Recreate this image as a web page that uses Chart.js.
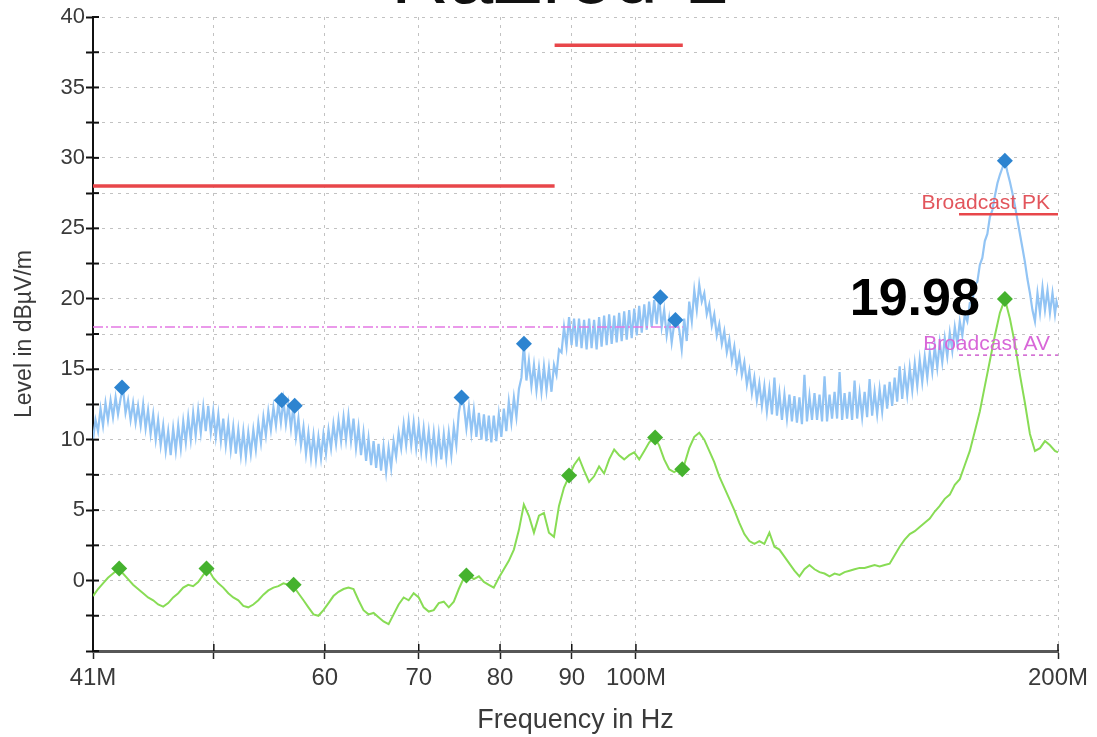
<!DOCTYPE html>
<html>
<head>
<meta charset="utf-8">
<script src="https://cdn.jsdelivr.net/npm/chart.js@4/dist/chart.umd.min.js"></script>
<style>
  html, body { margin: 0; padding: 0; background: #ffffff; }
  #wrap { width: 1097px; height: 737px; }
</style>
</head>
<body>
<div id="wrap"><canvas id="scan" width="1097" height="737"></canvas></div>
<script>
// Scan title
const chartTitle = 'RaZrod-1';

// Average detector sweep frequencies (MHz)
const freqMHz = [
  41.00, 41.34, 41.68, 42.02, 42.37, 42.72, 43.07, 43.43, 43.79, 44.15,
  44.52, 44.88, 45.26, 45.63, 46.01, 46.39, 46.77, 47.16, 47.55, 47.94,
  48.33, 48.73, 49.14, 49.54, 49.95, 50.37, 50.78, 51.20, 51.62, 52.05,
  52.48, 52.91, 53.35, 53.79, 54.24, 54.68, 55.14, 55.59, 56.05, 56.51,
  56.98, 57.45, 57.93, 58.40, 58.89, 59.37, 59.86, 60.36, 60.85, 61.36,
  61.87, 62.37, 62.89, 63.41, 63.93, 64.46, 65.00, 65.53, 66.07, 66.62,
  67.17, 67.73, 68.29, 68.85, 69.42, 70.00, 70.57, 71.16, 71.75, 72.34,
  72.94, 73.54, 74.15, 74.76, 75.39, 76.01, 76.63, 77.27, 77.91, 78.54,
  79.18, 79.84, 80.50, 81.16, 81.84, 82.52, 83.19, 83.88, 84.58, 85.28,
  85.98, 86.69, 87.41, 88.13, 88.86, 89.60, 90.34, 91.08, 91.84, 92.60,
  93.36, 94.13, 94.91, 95.70, 96.49, 97.28, 98.09, 98.90, 99.72, 100.54,
  101.38, 102.19, 103.04, 103.89, 104.75, 105.61, 106.48, 107.37, 108.25, 109.15,
  110.06, 110.96, 111.88, 112.80, 113.73, 114.67, 115.62, 116.58, 117.54, 118.51,
  119.49, 120.48, 121.47, 122.47, 123.48, 124.51, 125.54, 126.57, 127.62, 128.67,
  129.73, 130.80, 131.88, 132.98, 134.08, 135.19, 136.31, 137.43, 138.57, 139.72,
  140.87, 142.03, 143.20, 144.39, 145.58, 146.78, 147.99, 149.22, 150.45, 151.69,
  152.94, 154.21, 155.48, 156.78, 158.08, 159.37, 160.69, 162.02, 163.36, 164.70,
  166.06, 167.44, 168.82, 170.21, 171.62, 173.04, 174.47, 175.90, 177.35, 178.83,
  180.31, 181.80, 183.30, 184.81, 186.34, 187.88, 189.43, 190.99, 192.57, 194.17,
  195.77, 197.38, 199.01, 200.00
];

// Average detector trace (dBµV/m)
const avgLevel = [
  -1.1, -0.6, -0.2, 0.2, 0.5, 0.8, 0.5, 0.1, -0.3, -0.6,
  -0.9, -1.2, -1.4, -1.7, -1.85, -1.6, -1.2, -0.9, -0.5, -0.3,
  -0.4, -0.1, 0.4, 0.8, 0.2, -0.2, -0.5, -0.9, -1.2, -1.4,
  -1.8, -1.9, -1.7, -1.4, -1.0, -0.7, -0.5, -0.4, -0.2, -0.3,
  -0.4, -0.9, -1.4, -1.9, -2.4, -2.5, -2.1, -1.6, -1.1, -0.8,
  -0.6, -0.5, -0.6, -1.4, -2.1, -2.4, -2.3, -2.6, -2.9, -3.1,
  -2.4, -1.7, -1.2, -1.4, -0.9, -1.2, -1.9, -2.2, -2.1, -1.6,
  -1.5, -1.9, -1.5, -0.6, 0.2, 0.35, 0.1, 0.3, -0.1, -0.3,
  -0.5, 0.2, 0.8, 1.4, 2.2, 3.6, 5.4, 4.6, 3.4, 4.6,
  4.8, 3.4, 3.1, 5.3, 6.6, 7.4, 8.2, 8.7, 7.8, 7.0,
  7.4, 8.1, 7.6, 8.6, 9.3, 8.9, 8.6, 8.9, 9.1, 8.6,
  9.2, 9.8, 10.2, 9.6, 8.6, 7.9, 7.7, 7.9, 8.2, 9.4,
  10.2, 10.5, 10.0, 9.2, 8.4, 7.4, 6.6, 5.8, 5.0, 4.1,
  3.3, 2.8, 2.6, 2.8, 2.6, 3.4, 2.4, 2.2, 1.7, 1.2,
  0.7, 0.3, 0.8, 1.1, 0.8, 0.6, 0.5, 0.3, 0.5, 0.4,
  0.6, 0.7, 0.8, 0.9, 0.9, 1.0, 1.1, 1.0, 1.1, 1.2,
  1.8, 2.4, 2.9, 3.3, 3.5, 3.8, 4.1, 4.4, 4.9, 5.3,
  5.8, 6.1, 6.8, 7.2, 8.2, 9.2, 10.6, 12.0, 13.8, 15.6,
  17.4, 19.0, 19.98, 18.6, 16.8, 14.6, 12.6, 10.4, 9.2, 9.4,
  9.9, 9.6, 9.2, 9.1
];

// Peak detector sweep frequencies (MHz), finer step
const peakFreqMHz = [
  41.00, 41.17, 41.34, 41.51, 41.68, 41.85, 42.02, 42.20, 42.37, 42.55, 42.72, 42.90, 43.07, 43.25, 43.43, 43.61, 43.79, 43.97, 44.15, 44.34,
  44.52, 44.70, 44.88, 45.07, 45.26, 45.45, 45.63, 45.82, 46.01, 46.20, 46.39, 46.58, 46.77, 46.97, 47.16, 47.36, 47.55, 47.75, 47.94, 48.14,
  48.33, 48.53, 48.73, 48.94, 49.14, 49.34, 49.54, 49.75, 49.95, 50.16, 50.37, 50.58, 50.78, 50.99, 51.20, 51.41, 51.62, 51.84, 52.05, 52.27,
  52.48, 52.70, 52.91, 53.13, 53.35, 53.57, 53.79, 54.02, 54.24, 54.46, 54.68, 54.91, 55.14, 55.37, 55.59, 55.82, 56.05, 56.28, 56.51, 56.75,
  56.98, 57.22, 57.45, 57.69, 57.93, 58.17, 58.40, 58.65, 58.89, 59.13, 59.37, 59.62, 59.86, 60.11, 60.36, 60.61, 60.85, 61.11, 61.36, 61.62,
  61.87, 62.12, 62.37, 62.63, 62.89, 63.15, 63.41, 63.67, 63.93, 64.20, 64.46, 64.73, 65.00, 65.27, 65.53, 65.80, 66.07, 66.35, 66.62, 66.90,
  67.17, 67.45, 67.73, 68.01, 68.29, 68.57, 68.85, 69.14, 69.42, 69.71, 70.00, 70.29, 70.57, 70.87, 71.16, 71.46, 71.75, 72.05, 72.34, 72.64,
  72.94, 73.24, 73.54, 73.85, 74.15, 74.46, 74.76, 75.08, 75.39, 75.70, 76.01, 76.32, 76.63, 76.95, 77.27, 77.59, 77.91, 78.23, 78.54, 78.86,
  79.18, 79.51, 79.84, 80.17, 80.50, 80.83, 81.16, 81.50, 81.84, 82.18, 82.52, 82.86, 83.19, 83.54, 83.88, 84.23, 84.58, 84.93, 85.28, 85.63,
  85.98, 86.34, 86.69, 87.05, 87.41, 87.77, 88.13, 88.50, 88.86, 89.23, 89.60, 89.97, 90.34, 90.71, 91.08, 91.46, 91.84, 92.22, 92.60, 92.98,
  93.36, 93.75, 94.13, 94.52, 94.91, 95.31, 95.70, 96.10, 96.49, 96.89, 97.28, 97.69, 98.09, 98.50, 98.90, 99.31, 99.72, 100.13, 100.54, 100.96,
  101.38, 101.79, 102.19, 102.62, 103.04, 103.47, 103.89, 104.32, 104.75, 105.18, 105.61, 106.05, 106.48, 106.93, 107.37, 107.81, 108.25, 108.70, 109.15, 109.61,
  110.06, 110.51, 110.96, 111.42, 111.88, 112.34, 112.80, 113.27, 113.73, 114.20, 114.67, 115.15, 115.62, 116.10, 116.58, 117.06, 117.54, 118.03, 118.51, 119.00,
  119.49, 119.99, 120.48, 120.98, 121.47, 121.97, 122.47, 122.98, 123.48, 124.00, 124.51, 125.03, 125.54, 126.06, 126.57, 127.10, 127.62, 128.15, 128.67, 129.20,
  129.73, 130.27, 130.80, 131.34, 131.88, 132.43, 132.98, 133.53, 134.08, 134.64, 135.19, 135.75, 136.31, 136.87, 137.43, 138.00, 138.57, 139.15, 139.72, 140.30,
  140.87, 141.45, 142.03, 142.62, 143.20, 143.80, 144.39, 144.99, 145.58, 146.18, 146.78, 147.39, 147.99, 148.61, 149.22, 149.84, 150.45, 151.07, 151.69, 152.32,
  152.94, 153.58, 154.21, 154.85, 155.48, 156.13, 156.78, 157.43, 158.08, 158.73, 159.37, 160.03, 160.69, 161.36, 162.02, 162.69, 163.36, 164.03, 164.70, 165.38,
  166.06, 166.75, 167.44, 168.13, 168.82, 169.52, 170.21, 170.92, 171.62, 172.33, 173.04, 173.76, 174.47, 175.19, 175.90, 176.63, 177.35, 178.09, 178.83, 179.57,
  180.31, 181.06, 181.80, 182.55, 183.30, 184.06, 184.81, 185.58, 186.34, 187.11, 187.88, 188.66, 189.43, 190.21, 190.99, 191.78, 192.57, 193.37, 194.17, 194.97,
  195.77, 196.58, 197.38, 198.20, 199.01, 199.51, 200.00
];

// Peak detector trace (dBµV/m)
const peakLevel = [
  10.0, 11.4, 10.6, 12.2, 11.0, 12.6, 11.4, 12.8, 11.6, 13.0, 11.8, 12.9, 13.7, 11.9, 12.8, 11.4, 12.6, 11.2, 12.4, 11.0,
  12.5, 10.8, 12.1, 10.4, 11.8, 10.0, 11.4, 9.6, 11.0, 9.2, 10.6, 8.9, 10.8, 9.2, 11.0, 9.4, 11.3, 9.8, 11.6, 10.0,
  11.9, 10.3, 12.1, 10.5, 12.3, 10.6, 12.4, 10.5, 12.0, 10.2, 11.8, 9.9, 11.5, 9.6, 11.2, 9.3, 10.9, 9.0, 10.7, 8.9,
  10.6, 8.8, 10.5, 9.0, 10.7, 9.3, 11.2, 9.8, 11.6, 10.3, 12.0, 10.7, 12.3, 11.0, 12.6, 11.2, 12.8, 11.1, 12.5, 10.8,
  12.4, 10.2, 11.5, 9.6, 10.9, 9.0, 10.5, 8.7, 10.3, 8.6, 10.2, 8.7, 10.4, 9.0, 10.7, 9.4, 11.1, 9.7, 11.4, 9.9,
  11.6, 10.0, 11.7, 9.9, 11.5, 9.4, 10.9, 8.9, 10.5, 8.5, 10.1, 8.2, 9.9, 8.0, 9.7, 7.8, 9.5, 7.7, 9.4, 8.0,
  9.9, 8.8, 10.5, 9.4, 11.1, 9.6, 11.3, 9.6, 11.2, 9.4, 11.0, 9.2, 10.8, 9.0, 10.6, 8.8, 10.5, 8.7, 10.4, 8.6,
  10.4, 8.7, 10.5, 8.9, 10.9, 9.6, 11.9, 13.0, 12.4, 10.8, 12.3, 10.5, 12.1, 10.2, 11.9, 10.0, 11.8, 9.9, 11.7, 9.8,
  11.7, 9.9, 11.8, 10.2, 12.2, 10.6, 12.7, 11.2, 13.0, 11.6, 13.6, 14.4, 16.8, 14.2, 15.6, 13.8, 15.3, 13.5, 15.1, 13.4,
  15.2, 13.5, 15.1, 13.4, 15.3, 14.6, 16.4, 16.2, 18.0, 16.6, 18.7, 16.7, 18.6, 16.6, 18.6, 16.5, 18.5, 16.4, 18.6, 16.5,
  18.5, 16.4, 18.7, 16.6, 18.8, 16.7, 18.9, 16.8, 18.8, 16.9, 19.0, 17.0, 19.1, 17.1, 19.2, 17.2, 19.3, 17.4, 19.5, 17.6,
  19.6, 17.8, 19.8, 18.0, 19.9, 18.2, 20.1, 18.0, 19.2, 17.4, 18.6, 16.9, 18.2, 18.5, 17.8, 16.4, 18.6, 17.0, 19.8, 18.4,
  20.6, 19.2, 21.0, 19.8, 20.4, 18.9, 19.6, 18.1, 18.9, 17.4, 18.2, 16.8, 17.7, 16.2, 17.1, 15.6, 16.6, 15.0, 16.0, 14.6,
  15.5, 13.9, 14.9, 13.3, 14.4, 12.8, 14.0, 12.4, 13.8, 12.0, 13.6, 11.8, 14.4, 11.7, 13.3, 11.4, 13.2, 11.5, 13.2, 11.3,
  13.1, 11.2, 13.0, 11.1, 14.6, 11.3, 13.1, 11.4, 13.3, 11.4, 13.2, 11.3, 14.5, 11.3, 13.2, 11.5, 13.4, 11.5, 14.8, 11.4,
  13.3, 11.5, 13.4, 11.4, 14.2, 11.5, 13.3, 11.6, 13.4, 11.6, 14.3, 11.7, 13.4, 11.8, 13.6, 12.0, 13.9, 12.2, 14.1, 12.4,
  14.4, 12.7, 15.2, 12.9, 14.8, 13.2, 15.1, 13.5, 15.4, 13.8, 15.7, 14.1, 15.9, 14.4, 16.2, 14.8, 16.6, 15.1, 16.9, 15.5,
  17.2, 15.9, 17.6, 16.3, 18.0, 16.8, 18.4, 17.4, 18.9, 18.4, 19.7, 19.8, 21.0, 21.2, 22.4, 22.9, 24.1, 24.6, 25.8, 26.3,
  27.3, 28.2, 28.8, 29.3, 29.8, 29.0, 28.3, 27.5, 26.6, 25.6, 24.6, 23.6, 22.6, 21.4, 20.4, 19.2, 18.4, 20.4, 19.0, 20.8,
  19.2, 20.6, 19.0, 20.4, 18.9, 19.8, 19.4
];

// Final measurement points
const peakMarkFreq  = [43.0, 55.9, 57.1, 75.1, 83.2, 104.1, 106.7, 183.3];
const peakMarkLevel = [13.7, 12.8, 12.4, 13.0, 16.8, 20.1, 18.5, 29.8];
const avgMarkFreq   = [42.8, 49.4, 57.0, 75.7, 89.6, 103.2, 107.9, 183.3];
const avgMarkLevel  = [0.85, 0.85, -0.3, 0.35, 7.45, 10.15, 7.9, 19.98];

// Limit lines
const lowBandFreq  = [41, 87.5];
const lowBandLimit = [28, 28];
const fmBandFreq   = [87.5, 108];
const fmBandLimit  = [38, 38];
const avRefFreq    = [41, 108];
const avRefLimit   = [18, 18];
const bcFreq       = [170, 200];
const bcPkLimit    = [26, 26];
const bcAvLimit    = [16, 16];

// Axis ticks
const freqTicks      = [41, 50, 60, 70, 80, 90, 100, 200];
const freqTickLabels = ['41M', '', '60', '70', '80', '90', '100M', '200M'];

const FONT = '"Liberation Sans", Arial, Helvetica, sans-serif';
Chart.defaults.font.family = FONT;

const pts = (xs, ys) => xs.map((v, i) => ({ x: v, y: ys[i] }));

// Tick marks that cross the axes, like the analyser plot style
const crossTicks = {
  id: 'crossTicks',
  afterDraw(chart) {
    const { ctx, chartArea, scales: { x, y } } = chart;
    ctx.save();
    ctx.strokeStyle = '#111';
    ctx.lineWidth = 2;
    y.ticks.forEach(t => {
      const py = y.getPixelForValue(t.value);
      ctx.beginPath();
      ctx.moveTo(chartArea.left, py);
      ctx.lineTo(chartArea.left + 6, py);
      ctx.stroke();
    });
    ctx.lineWidth = 1.5;
    x.ticks.forEach(t => {
      const px = x.getPixelForValue(t.value);
      ctx.beginPath();
      ctx.moveTo(px, chartArea.bottom - 7);
      ctx.lineTo(px, chartArea.bottom);
      ctx.stroke();
    });
    ctx.restore();
  }
};

const overlay = {
  id: 'overlay',
  afterDatasetsDraw(chart) {
    const { ctx, chartArea, scales: { x, y } } = chart;
    ctx.save();
    // heading, running off the top edge
    ctx.font = '80px ' + FONT;
    ctx.fillStyle = '#111';
    ctx.textAlign = 'center';
    ctx.textBaseline = 'alphabetic';
    ctx.fillText(chartTitle, 560, 3);

    // limit line names
    ctx.font = '21px ' + FONT;
    ctx.textAlign = 'right';
    ctx.fillStyle = '#e2555c';
    ctx.fillText('Broadcast PK', chartArea.right - 8, y.getPixelForValue(bcPkLimit[0]) - 5);
    ctx.fillStyle = '#d867d8';
    ctx.fillText('Broadcast AV', chartArea.right - 8, y.getPixelForValue(bcAvLimit[0]) - 5);

    // value of the highest average reading
    const k = avgMarkLevel.length - 1;
    const px = x.getPixelForValue(avgMarkFreq[k]);
    const py = y.getPixelForValue(avgMarkLevel[k]);
    ctx.font = 'bold 52px ' + FONT;
    ctx.fillStyle = '#000';
    ctx.textBaseline = 'middle';
    ctx.fillText(avgMarkLevel[k].toFixed(2), px - 25, py + 2);
    ctx.restore();
  }
};

const limitLine = (xs, ys, color, width, dash, order) => ({
  type: 'line',
  data: pts(xs, ys),
  borderColor: color,
  borderWidth: width,
  borderDash: dash,
  pointRadius: 0,
  fill: false,
  order: order
});

new Chart(document.getElementById('scan'), {
  type: 'line',
  data: {
    datasets: [
      {
        data: pts(peakMarkFreq, peakMarkLevel),
        showLine: false,
        pointStyle: 'rectRot',
        pointRadius: 8,
        pointBackgroundColor: '#2d84d0',
        pointBorderWidth: 0,
        order: 1
      },
      {
        data: pts(avgMarkFreq, avgMarkLevel),
        showLine: false,
        pointStyle: 'rectRot',
        pointRadius: 8,
        pointBackgroundColor: '#45b22e',
        pointBorderWidth: 0,
        order: 1
      },
      limitLine(lowBandFreq, lowBandLimit, '#e8464a', 3.5, [], 2),
      limitLine(fmBandFreq, fmBandLimit, '#e8464a', 3.5, [], 2),
      limitLine(bcFreq, bcPkLimit, '#e8464a', 2.5, [], 2),
      limitLine(avRefFreq, avRefLimit, '#e478e4', 1.5, [10, 3, 2, 3], 2),
      limitLine(bcFreq, bcAvLimit, '#cf5fcf', 1.5, [4, 4], 2),
      {
        data: pts(peakFreqMHz, peakLevel),
        borderColor: '#92c4f4',
        borderWidth: 2.2,
        pointRadius: 0,
        tension: 0,
        order: 3
      },
      {
        data: pts(freqMHz, avgLevel),
        borderColor: '#88dc55',
        borderWidth: 2,
        pointRadius: 0,
        tension: 0,
        order: 3
      }
    ]
  },
  options: {
    responsive: false,
    animation: false,
    events: [],
    layout: { padding: { top: 17, right: 39, left: 0, bottom: 0 } },
    plugins: {
      legend: { display: false },
      tooltip: { enabled: false },
      title: { display: false }
    },
    scales: {
      x: {
        type: 'logarithmic',
        min: 41,
        max: 200,
        afterBuildTicks(s) { s.ticks = freqTicks.map(v => ({ value: v })); },
        afterFit(s) { s.height = 86; },
        ticks: {
          autoSkip: false,
          maxRotation: 0,
          padding: 5,
          color: '#3a3a3a',
          font: { size: 24 },
          callback: (v, i) => freqTickLabels[i]
        },
        grid: {
          color: '#c2c2c2',
          lineWidth: 1,
          tickColor: '#222',
          tickLength: 8,
          tickWidth: 1.5
        },
        border: { display: true, color: '#575757', width: 3, dash: [3, 5] },
        title: {
          display: true,
          text: 'Frequency in Hz',
          color: '#3a3a3a',
          font: { size: 27 },
          padding: { top: 1, bottom: 0 }
        }
      },
      y: {
        min: -5,
        max: 40,
        afterFit(s) { s.width = 93; },
        ticks: {
          stepSize: 2.5,
          autoSkip: false,
          padding: 1,
          color: '#3a3a3a',
          font: { size: 22 },
          callback: v => (v % 5 === 0 && v > -5) ? String(v) : ''
        },
        grid: {
          color: '#c2c2c2',
          lineWidth: 1,
          tickColor: '#111',
          tickLength: 7,
          tickWidth: 2
        },
        border: { display: true, color: '#111', width: 2, dash: [3, 5] },
        title: {
          display: true,
          text: 'Level in dBµV/m',
          color: '#3a3a3a',
          font: { size: 23 },
          padding: { top: 11, bottom: 0 }
        }
      }
    }
  },
  plugins: [overlay, crossTicks]
});
</script>
</body>
</html>
